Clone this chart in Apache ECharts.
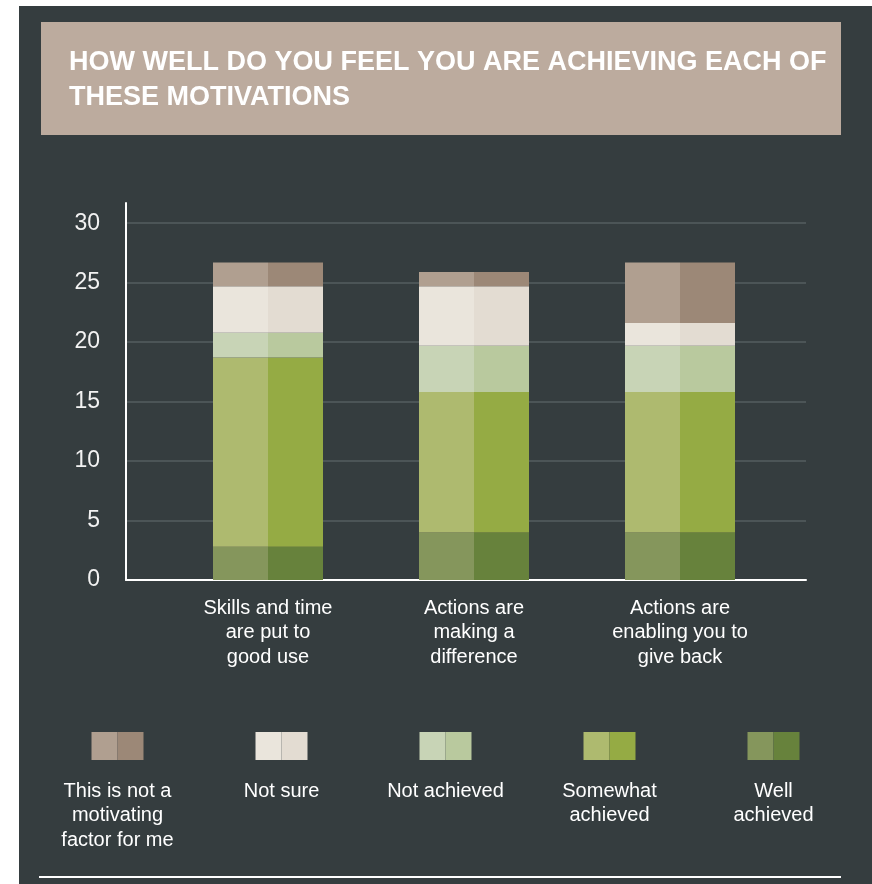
<!DOCTYPE html>
<html>
<head>
<meta charset="utf-8">
<script src="https://cdn.jsdelivr.net/npm/echarts@6/dist/echarts.min.js"></script>
<style>
  html, body { margin: 0; padding: 0; background: #ffffff; }
  #wrap { position: relative; width: 872px; height: 884px; overflow: hidden; background: #ffffff; }
  #dark { position: absolute; left: 19px; top: 6px; width: 853px; height: 878px; background: #353d3f; }
  #titlebox { position: absolute; left: 41px; top: 22px; width: 800px; height: 113px; background: #bcab9e; }
  #chart { position: absolute; left: 0; top: 0; width: 872px; height: 884px; }
</style>
</head>
<body>
<div id="wrap">
  <div id="dark"></div>
  <div id="titlebox"></div>
  <div id="chart"></div>
</div>
<script>
// ---- data ----
const titleText = 'HOW WELL DO YOU FEEL YOU ARE ACHIEVING EACH OF\nTHESE MOTIVATIONS';
const categories = [
  'Skills and time\nare put to\ngood use',
  'Actions are\nmaking a\ndifference',
  'Actions are\nenabling you to\ngive back'
];
const wellAchieved     = [2.8, 4.0, 4.0];
const somewhatAchieved = [15.9, 11.8, 11.8];
const notAchieved      = [2.1, 3.9, 3.9];
const notSure          = [3.9, 5.0, 1.9];
const notMotivating    = [2.0, 1.2, 5.1];
const yTickLabels = ['0', '5', '10', '15', '20', '25', '30'];
const yMax = 31.7;
const yInterval = 5;

const seriesNames = ['Well achieved', 'Somewhat achieved', 'Not achieved', 'Not sure', 'This is not a motivating factor for me'];
const seriesValues = [wellAchieved, somewhatAchieved, notAchieved, notSure, notMotivating];
const colorsLeft  = ['#85965c', '#aeba6f', '#c8d4b6', '#eae5dc', '#b09f90'];
const colorsRight = ['#67823c', '#95ab44', '#b9c99e', '#e3dcd2', '#9c8877'];

// legend order (left to right) and labels
const legendOrder = [4, 3, 2, 1, 0];
const legendLabels = ['This is not a\nmotivating\nfactor for me', 'Not sure', 'Not achieved', 'Somewhat\nachieved', 'Well\nachieved'];

const chart = echarts.init(document.getElementById('chart'), null, { renderer: 'canvas' });

const series = [];
seriesValues.forEach((vals, i) => {
  series.push({
    name: seriesNames[i] + ' L', type: 'bar', stack: 'L', xAxisIndex: 1, yAxisIndex: 1,
    data: vals, barWidth: 55, barGap: '0%', itemStyle: { color: colorsLeft[i] }, silent: true
  });
  series.push({
    name: seriesNames[i] + ' R', type: 'bar', stack: 'R', xAxisIndex: 1, yAxisIndex: 1,
    data: vals, barWidth: 55, barGap: '0%', itemStyle: { color: colorsRight[i] }, silent: true
  });
});

const graphics = [];
legendOrder.forEach((si, k) => {
  const cx = 117.5 + k * 164;
  graphics.push({ type: 'rect', shape: { x: cx - 26, y: 732, width: 26, height: 28 }, style: { fill: colorsLeft[si] } });
  graphics.push({ type: 'rect', shape: { x: cx, y: 732, width: 26, height: 28 }, style: { fill: colorsRight[si] } });
  graphics.push({
    type: 'text', x: cx, y: 779,
    style: { text: legendLabels[k], fill: '#ffffff', font: '20px "Liberation Sans", Arial, sans-serif',
             align: 'center', verticalAlign: 'top', lineHeight: 24.5 }
  });
});
graphics.push({ type: 'rect', shape: { x: 39, y: 876, width: 802, height: 2 }, style: { fill: '#ffffff' } });

chart.setOption({
  backgroundColor: 'transparent',
  animation: false,
  title: {
    text: titleText, left: 69, top: 45, padding: 0,
    textStyle: { color: '#ffffff', fontSize: 27, fontWeight: 'bold', fontFamily: '"Liberation Sans", Arial, sans-serif', lineHeight: 35 }
  },
  grid: [
    { left: 126, right: 66, top: 203, bottom: 304 },
    { left: 165, width: 618, top: 203, bottom: 304 }
  ],
  xAxis: [
    { type: 'value', gridIndex: 0, min: 0, max: 1, axisLabel: { show: false }, axisTick: { show: false }, splitLine: { show: false },
      axisLine: { show: true, lineStyle: { color: '#ffffff', width: 2 } } },
    { type: 'category', gridIndex: 1, data: categories, axisLine: { show: false }, axisTick: { show: false },
      axisLabel: { color: '#ffffff', fontSize: 20, fontFamily: '"Liberation Sans", Arial, sans-serif', lineHeight: 24.5, margin: 16, interval: 0 } }
  ],
  yAxis: [
    { type: 'value', gridIndex: 0, min: 0, max: yMax, interval: yInterval,
      axisLine: { show: true, lineStyle: { color: '#ffffff', width: 2 } }, axisTick: { show: false },
      axisLabel: { color: '#f2f2f2', fontSize: 23, fontFamily: '"Liberation Sans", Arial, sans-serif', margin: 26, showMaxLabel: false,
        formatter: (v) => { const i = Math.round(v / yInterval); return (Math.abs(v - i * yInterval) < 1e-6 && yTickLabels[i] !== undefined) ? yTickLabels[i] : ''; } },
      splitLine: { show: true, showMaxLine: false, lineStyle: { color: '#4c5557', width: 2 } } },
    { type: 'value', gridIndex: 1, min: 0, max: yMax, interval: yInterval, show: false, splitLine: { show: false } }
  ],
  series: series,
  graphic: graphics
});
</script>
</body>
</html>
